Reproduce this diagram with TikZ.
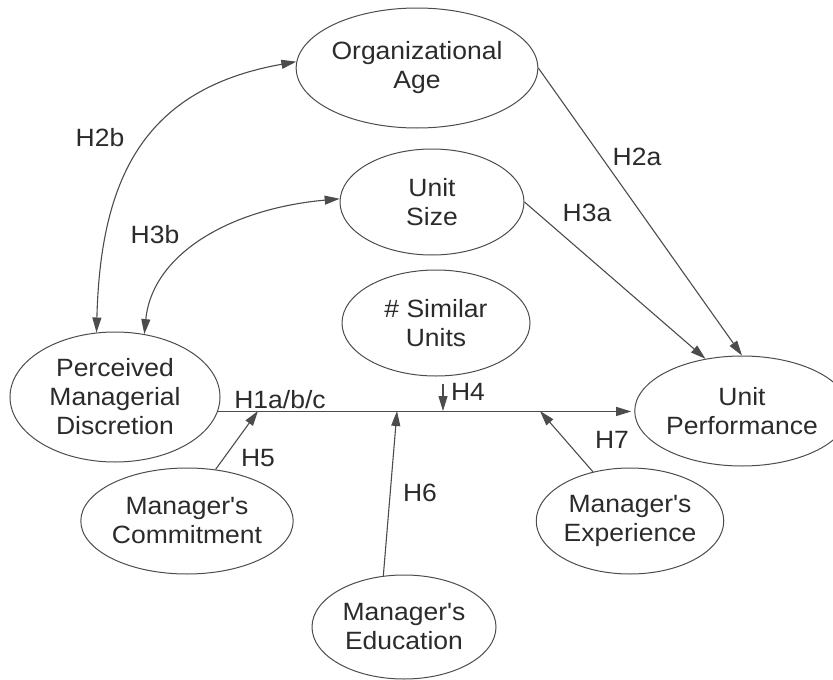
\documentclass[tikz,border=0pt]{standalone}
\usepackage{fontspec}
\newfontfamily\diagfont{Liberation Sans}[FakeStretch=1.06]
\usetikzlibrary{shapes.geometric,arrows.meta}
\definecolor{ink}{HTML}{2B2B2B}
\definecolor{edgegray}{HTML}{4C4C4C}
\begin{document}
\begin{tikzpicture}[x=1pt,y=-1pt,
  construct/.style={ellipse,draw=edgegray,line width=1pt,inner sep=0pt,
    align=center,text=ink,font=\diagfont\fontsize{25}{29}\selectfont},
  hlabel/.style={text=ink,font=\diagfont\fontsize{25}{29}\selectfont,inner sep=0pt},
  tip/.tip={Triangle[length=15pt,width=9pt]},
  link/.style={draw=edgegray,line width=1.1pt,-tip},
  twoway/.style={draw=edgegray,line width=1.1pt,tip-tip}]
\useasboundingbox (0,0) rectangle (833,680);

% constructs
\node[construct,minimum width=220pt,minimum height=120pt] (age) at (417,68) {Organizational\\Age};
\node[construct,minimum width=184pt,minimum height=106pt] (us) at (432,202) {Unit\\Size};
\node[construct,minimum width=188pt,minimum height=106pt] (su) at (436,323) {\# Similar\\Units};
\node[construct,minimum width=210pt,minimum height=130pt] (pmd) at (115,397) {Perceived\\Managerial\\Discretion};
\node[construct,minimum width=178pt,minimum height=110pt] (up) at (742,411) {Unit\\Performance};
\node[construct,minimum width=184pt,minimum height=106pt] (mc) at (187,521) {Manager's\\Commitment};
\node[construct,minimum width=184pt,minimum height=104pt] (ed) at (404,627) {Manager's\\Education};
\node[construct,minimum width=186pt,minimum height=106pt] (ex) at (630,521) {Manager's\\Experience};

% points on the main path where the moderators meet it
\coordinate (j5) at (258,411);
\coordinate (j6) at (397,411);
\coordinate (j4) at (443,411);
\coordinate (j7) at (540,411);

% main effect
\draw[link,shorten >=3pt] (pmd.-8) -- (pmd.-8 -| up.west);

% direct effects on performance
\draw[link] (age.east) -- (up.north);
\draw[link] (us.east) -- (up.125);

% correlations with discretion
\draw[twoway] (pmd.106) .. controls +(4,-155) and +(-152,27) .. (age.177);
\draw[twoway] (pmd.65) .. controls +(8,-80) and +(-110,10) .. (us.178);

% moderators
\draw[link,shorten <=7pt] (su.south -| j4) -- (j4);
\draw[link] (mc.61) -- (j5);
\draw[link] (ed.112) -- (j6);
\draw[link] (ex.127) -- (j7);

% hypothesis labels
\node[hlabel] (l2b) at (100,138) {H2b};
\node[hlabel] (l3b) at (155,235) {H3b};
\node[hlabel] (l2a) at (637,157) {H2a};
\node[hlabel] (l3a) at (587,213) {H3a};
\node[hlabel] (l1) at (280,400) {H1a/b/c};
\node[hlabel] (l4) at (468,392) {H4};
\node[hlabel] (l5) at (258,458) {H5};
\node[hlabel] (l6) at (420,493) {H6};
\node[hlabel] (l7) at (612,440) {H7};
\end{tikzpicture}
\end{document}
